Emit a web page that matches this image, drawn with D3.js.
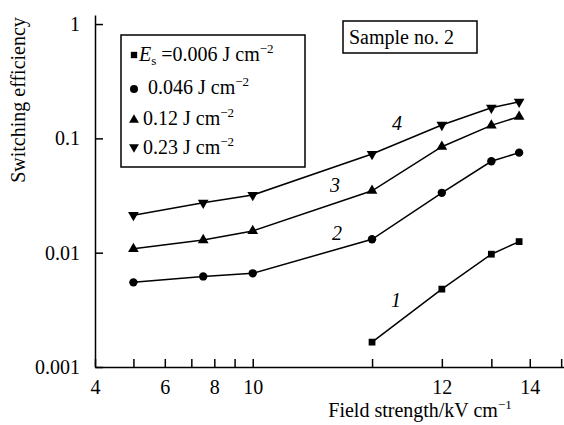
<!DOCTYPE html>
<html>
<head>
<meta charset="utf-8">
<script src="https://cdn.jsdelivr.net/npm/d3@7"></script>
<style>
  body { margin: 0; }
  svg, svg text, svg tspan { font-family: 'Liberation Serif', serif !important; }
</style>
</head>
<body>
<div id="chart"></div>
<script>
/* Datos */
var fieldAll = [5, 7.5, 10, 20, 30, 40, 47];
var fieldHigh = [20, 30, 40, 47];
var eff1 = [0.00165, 0.0048, 0.0097, 0.0125];
var eff2 = [0.0055, 0.0062, 0.0066, 0.0131, 0.0334, 0.063, 0.075];
var eff3 = [0.0108, 0.0129, 0.0155, 0.0348, 0.0845, 0.130, 0.155];
var eff4 = [0.0213, 0.0273, 0.0319, 0.073, 0.131, 0.185, 0.209];

var xTicks = [4, 5, 6, 7, 8, 9, 10, 20, 30, 40, 50, 60];
var xTickLabels = {4: '4', 6: '6', 8: '8', 10: '10', 30: '12', 50: '14'};
var yTicks = [0.001, 0.01, 0.1, 1];
var yTickLabels = ['0.001', '0.01', '0.1', '1'];

var w = 564;
var h = 425;
var FONT = "'Liberation Serif', serif";

var series = [
  {name: 'a', xs: fieldHigh, ys: eff1, sym: d3.symbolSquare, size: 46},
  {name: 'b', xs: fieldAll, ys: eff2, sym: d3.symbolCircle, size: 55},
  {name: 'c', xs: fieldAll, ys: eff3, sym: d3.symbolTriangle, size: 50},
  {name: 'd', xs: fieldAll, ys: eff4, sym: d3.symbolTriangle, size: 50, flip: true}
];

var svg = d3.select('#chart').append('svg')
            .attr('width', w)
            .attr('height', h)
            .attr('font-family', FONT);

// escalas logaritmicas
var x = d3.scaleLog().domain([4, 61]).range([95, 564]);
var y = d3.scaleLog().domain([0.001, 1.2]).range([367, 15]);

// ejes con marcas hacia dentro
var xAxis = d3.axisBottom(x)
              .tickValues(xTicks)
              .tickFormat(function (d) { return xTickLabels[d] || ''; })
              .tickSizeInner(-8).tickSizeOuter(0).tickPadding(13);
var yAxis = d3.axisLeft(y)
              .tickValues(yTicks)
              .tickFormat(function (d, i) { return yTickLabels[i]; })
              .tickSizeInner(-8).tickSizeOuter(0).tickPadding(15);

var gx = svg.append('g').attr('transform', 'translate(0,367)').call(xAxis);
var gy = svg.append('g').attr('transform', 'translate(95,0)').call(yAxis);
[gx, gy].forEach(function (g) {
  g.attr('font-family', FONT).attr('font-size', 20);
  g.selectAll('path, line').attr('stroke', '#000').attr('stroke-width', 1.5);
  g.selectAll('text').attr('fill', '#000');
});

// titulos de ejes
svg.append('text')
   .attr('transform', 'translate(25,100) rotate(-90)')
   .attr('text-anchor', 'middle')
   .attr('font-size', 20)
   .text('Switching efficiency');

var xt = svg.append('text')
   .attr('x', 420).attr('y', 417)
   .attr('text-anchor', 'middle')
   .attr('font-size', 20);
xt.append('tspan').text('Field strength/kV cm');
xt.append('tspan').attr('font-size', 13).attr('dy', -8).text('\u22121');

// lineas y marcadores
var line = d3.line()
             .x(function (d) { return x(d[0]); })
             .y(function (d) { return y(d[1]); });

series.forEach(function (s) {
  var pts = s.xs.map(function (v, i) { return [v, s.ys[i]]; });
  svg.append('path')
     .datum(pts)
     .attr('d', line)
     .attr('fill', 'none')
     .attr('stroke', '#000')
     .attr('stroke-width', 1.5);
  svg.selectAll('.m' + s.name)
     .data(pts)
     .enter()
     .append('path')
     .attr('d', d3.symbol().type(s.sym).size(s.size))
     .attr('transform', function (d) {
        return 'translate(' + x(d[0]) + ',' + y(d[1]) + ')' + (s.flip ? ' rotate(180)' : '');
     })
     .attr('fill', '#000');
});

// numeros de curvas
var curveLabels = [
  {t: '1', px: 396, py: 307},
  {t: '2', px: 337, py: 240},
  {t: '3', px: 335, py: 192},
  {t: '4', px: 397, py: 130}
];
svg.selectAll('.cl')
   .data(curveLabels)
   .enter()
   .append('text')
   .attr('x', function (d) { return d.px; })
   .attr('y', function (d) { return d.py; })
   .attr('text-anchor', 'middle')
   .attr('font-size', 20)
   .attr('font-style', 'italic')
   .text(function (d) { return d.t; });

// leyenda
svg.append('rect')
   .attr('x', 121).attr('y', 35).attr('width', 184).attr('height', 132)
   .attr('fill', '#fff').attr('stroke', '#000').attr('stroke-width', 1.5);

var legendRows = [
  {sym: d3.symbolSquare, size: 40, my: 55, ty: 61, tx: 139, val: '0.006', first: true},
  {sym: d3.symbolCircle, size: 50, my: 89, ty: 94, tx: 148, val: '0.046'},
  {sym: d3.symbolTriangle, size: 42, my: 120, ty: 125, tx: 143, val: '0.12'},
  {sym: d3.symbolTriangle, size: 42, my: 147, ty: 154, tx: 143, val: '0.23', flip: true}
];
legendRows.forEach(function (r) {
  svg.append('path')
     .attr('d', d3.symbol().type(r.sym).size(r.size))
     .attr('transform', 'translate(134,' + r.my + ')' + (r.flip ? ' rotate(180)' : ''))
     .attr('fill', '#000');
  var t = svg.append('text').attr('x', r.tx).attr('y', r.ty)
             .attr('font-size', 20);
  if (r.first) {
    t.append('tspan').attr('font-style', 'italic').text('E');
    t.append('tspan').attr('font-size', 13).attr('dy', 4).text('s');
    t.append('tspan').attr('dy', -4).text(' =0.006 J cm');
  } else {
    t.append('tspan').text(r.val + ' J cm');
  }
  t.append('tspan').attr('font-size', 13).attr('dy', -8).text('\u22122');
});

// recuadro de muestra
svg.append('rect')
   .attr('x', 343).attr('y', 21).attr('width', 134).attr('height', 32)
   .attr('fill', '#fff').attr('stroke', '#000').attr('stroke-width', 1.5);
svg.append('text')
   .attr('x', 349).attr('y', 44)
   .attr('font-size', 20)
   .text('Sample no. 2');

// fuerza la fuente serif en cada texto
svg.selectAll('text, tspan').style('font-family', FONT, 'important');
</script>
</body>
</html>
